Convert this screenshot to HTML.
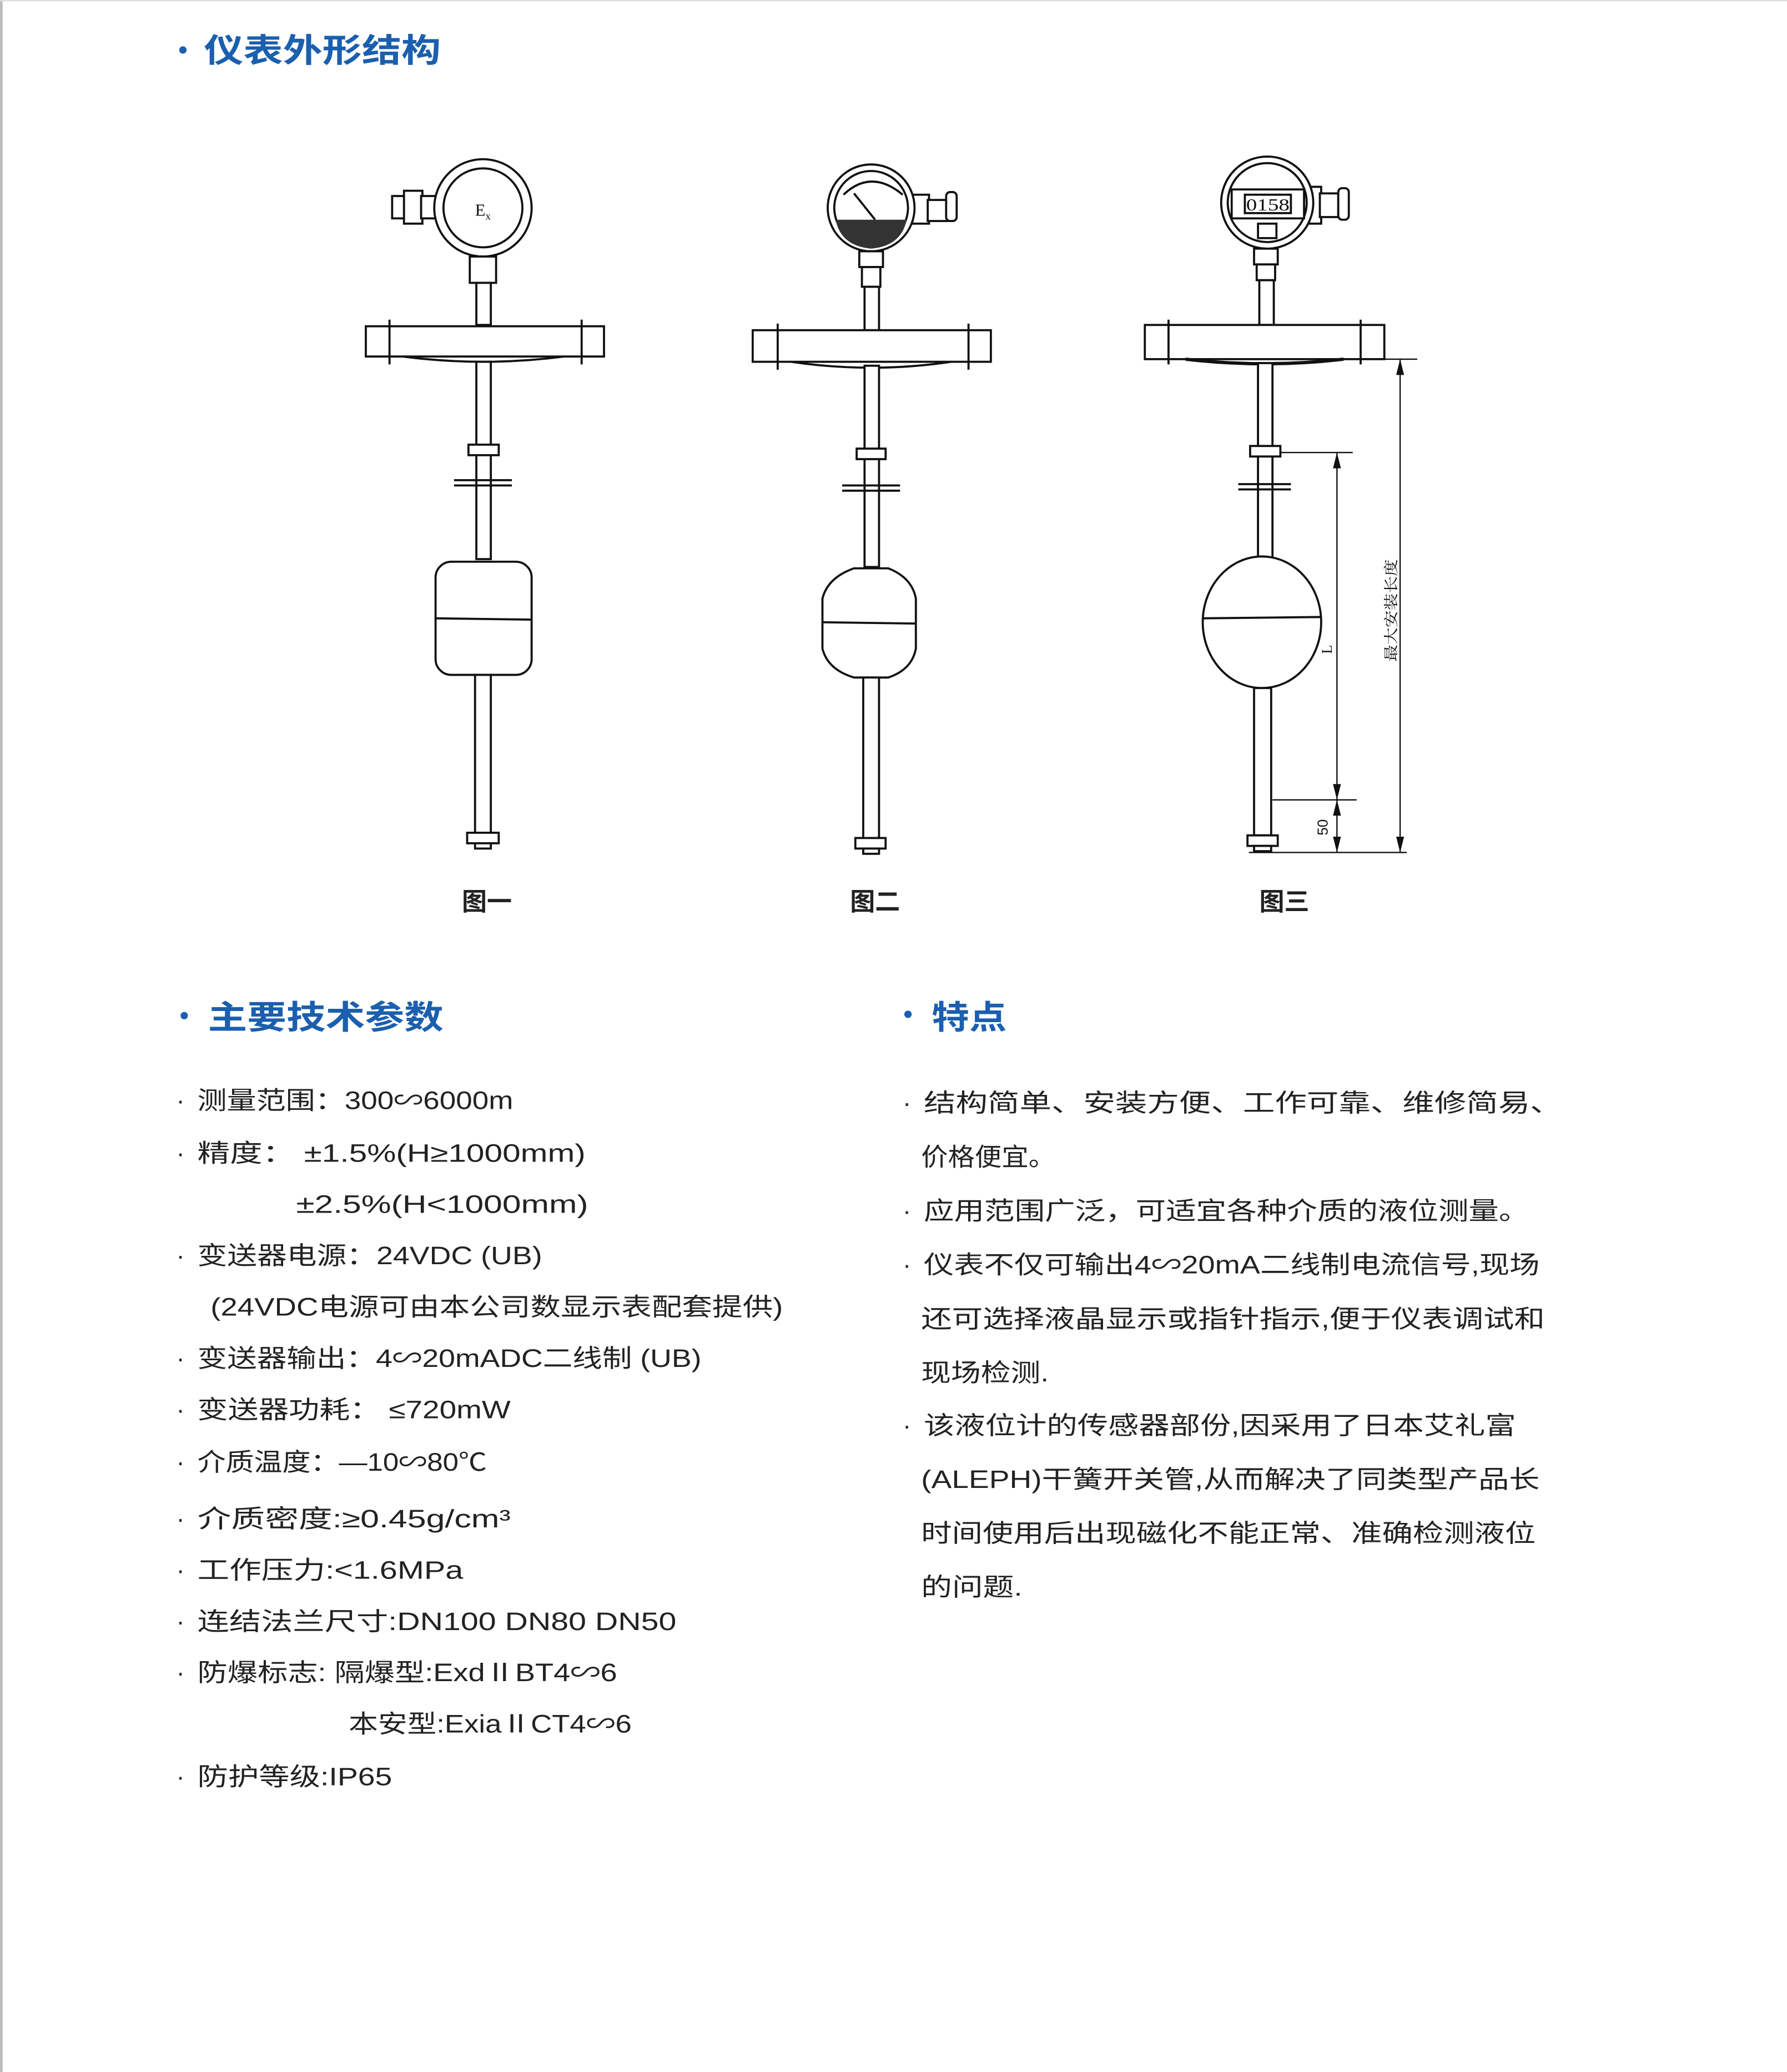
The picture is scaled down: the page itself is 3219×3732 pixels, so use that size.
<!DOCTYPE html>
<html><head><meta charset="utf-8"><style>
html,body{margin:0;padding:0;background:#fff;}
svg{display:block;}
.t{font-family:"Liberation Sans","Noto Sans CJK SC",sans-serif;font-size:19px;fill:#222;}
.h{font-family:"Liberation Sans","Noto Sans CJK SC",sans-serif;font-size:25px;font-weight:bold;fill:#1b5fae;}
.s{fill:none;stroke:#111;stroke-width:1.6;}
.w{fill:#fff;stroke:#111;stroke-width:1.6;}
.d{stroke:#111;stroke-width:1;fill:none;}
</style></head><body>
<svg width="3219" height="3732" viewBox="0 0 1358 1575" preserveAspectRatio="none" xmlns="http://www.w3.org/2000/svg">
<rect x="0" y="0" width="1358" height="1575" fill="#fff"/>
<line x1="1" y1="0" x2="1" y2="1575" stroke="#bbb" stroke-width="2"/>
<line x1="0" y1="0.5" x2="1358" y2="0.5" stroke="#ddd" stroke-width="1"/>

<!-- titles -->
<circle cx="139" cy="38" r="2.8" fill="#1b5fae"/>
<text class="h" x="155" y="47" textLength="180" lengthAdjust="spacingAndGlyphs">仪表外形结构</text>
<circle cx="140" cy="772" r="2.8" fill="#1b5fae"/>
<text class="h" x="158" y="782" textLength="179" lengthAdjust="spacingAndGlyphs">主要技术参数</text>
<circle cx="690" cy="771" r="2.8" fill="#1b5fae"/>
<text class="h" x="708" y="782" textLength="57" lengthAdjust="spacingAndGlyphs">特点</text>

<g transform="translate(1,3)">
<!-- FIG 1 -->
<g>
<rect class="w" x="297" y="146" width="10" height="17"/>
<rect class="w" x="306" y="142" width="14" height="25"/>
<rect class="w" x="319" y="146" width="12" height="17"/>
<circle class="w" cx="366" cy="155" r="37"/>
<circle class="s" cx="366" cy="155" r="30"/>
<text x="360" y="161" font-family="Liberation Serif,serif" font-size="13" fill="#111">E<tspan font-size="8" dy="3">x</tspan></text>
<rect class="w" x="356" y="192" width="20" height="20"/>
<rect class="w" x="361" y="212" width="11" height="32"/>
<rect class="w" x="277" y="245" width="181" height="23"/>
<line class="s" x1="295" y1="240" x2="295" y2="274"/>
<line class="s" x1="441" y1="240" x2="441" y2="274"/>
<path class="s" d="M305 268 Q366 276 428 268"/>
<rect class="w" x="361" y="272" width="11" height="150"/>
<rect class="w" x="355" y="335" width="23" height="8"/>
<line class="s" x1="344" y1="362" x2="388" y2="362"/>
<line class="s" x1="344" y1="366" x2="388" y2="366"/>
<rect class="w" x="330" y="424" width="73" height="86" rx="12"/>
<line class="s" x1="330" y1="467" x2="403" y2="468"/>
<rect class="w" x="360" y="510" width="12" height="120"/>
<rect class="w" x="354" y="630" width="24" height="8"/>
<rect class="w" x="360" y="638" width="12" height="4"/>
<text class="t" x="350" y="689" font-size="15" font-weight="bold">图一</text>
</g>

<!-- FIG 2 -->
<g>
<rect class="w" x="690" y="145" width="15" height="22"/>
<rect class="w" x="704" y="149" width="15" height="16"/>
<rect class="w" x="718" y="143" width="8" height="22" rx="3"/>
<circle class="w" cx="661" cy="155" r="33"/>
<circle class="s" cx="661" cy="155" r="28"/>
<path class="s" d="M640 145 Q661 125 685 145"/>
<line class="s" x1="648" y1="144" x2="664" y2="164"/>
<path d="M634 164 L688 164 Q684 184 661 186 Q638 184 634 164 Z" fill="#333"/>
<rect class="w" x="652" y="188" width="18" height="12"/>
<rect class="w" x="654" y="200" width="14" height="15"/>
<rect class="w" x="656" y="215" width="11" height="33"/>
<rect class="w" x="571" y="248" width="181" height="24"/>
<line class="s" x1="590" y1="243" x2="590" y2="278"/>
<line class="s" x1="735" y1="243" x2="735" y2="278"/>
<path class="s" d="M600 272 Q661 281 722 272"/>
<rect class="w" x="656" y="275" width="11" height="153"/>
<rect class="w" x="650" y="338" width="22" height="8"/>
<line class="s" x1="639" y1="366" x2="683" y2="366"/>
<line class="s" x1="639" y1="370" x2="683" y2="370"/>
<path class="w" d="M648 429 L674 429 Q692 436 695 452 L695 490 Q692 506 674 512 L648 512 Q628 506 624 490 L624 452 Q628 436 648 429 Z"/>
<line class="s" x1="624" y1="470" x2="695" y2="471"/>
<rect class="w" x="655" y="512" width="12" height="122"/>
<rect class="w" x="649" y="634" width="23" height="8"/>
<rect class="w" x="655" y="642" width="12" height="4"/>
<text class="t" x="645" y="689" font-size="15" font-weight="bold">图二</text>
</g>

<!-- FIG 3 -->
<g>
<rect class="w" x="990" y="139" width="13" height="28"/>
<rect class="w" x="1002" y="144" width="14" height="18"/>
<rect class="w" x="1016" y="140" width="8" height="24" rx="3"/>
<circle class="w" cx="962" cy="151" r="35"/>
<circle class="s" cx="962" cy="151" r="30"/>
<rect class="w" x="935" y="141" width="55" height="22"/>
<rect class="s" x="945" y="145" width="35" height="14"/>
<text x="946" y="157" font-family="Liberation Serif,serif" font-size="13" fill="#111" textLength="33" lengthAdjust="spacingAndGlyphs">0158</text>
<rect class="w" x="955" y="167" width="14" height="11"/>
<rect class="w" x="952" y="186" width="18" height="12"/>
<rect class="w" x="954" y="198" width="14" height="12"/>
<rect class="w" x="956" y="210" width="11" height="34"/>
<rect class="w" x="869" y="244" width="182" height="26"/>
<line class="s" x1="887" y1="240" x2="887" y2="274"/>
<line class="s" x1="1033" y1="240" x2="1033" y2="274"/>
<path d="M900 270 Q960 277 1020 270" stroke="#111" stroke-width="2.5" fill="none"/>
<rect class="w" x="955" y="273" width="11" height="152"/>
<rect class="w" x="949" y="336" width="23" height="8"/>
<line class="s" x1="940" y1="365" x2="980" y2="365"/>
<line class="s" x1="940" y1="369" x2="980" y2="369"/>
<ellipse class="w" cx="958" cy="470" rx="45" ry="50"/>
<line class="s" x1="913" y1="467" x2="1003" y2="466"/>
<rect class="w" x="952" y="520" width="13" height="112"/>
<rect class="w" x="947" y="632" width="23" height="8"/>
<rect class="w" x="952" y="640" width="13" height="4"/>
<line class="d" x1="972" y1="341" x2="1027" y2="341"/>
<line class="d" x1="966" y1="605" x2="1030" y2="605"/>
<line class="d" x1="1015" y1="341" x2="1015" y2="645"/>
<path d="M1015 341 l-3 12 h6z M1015 605 l-3 -12 h6z M1015 605 l-3 12 h6z M1015 645 l-3 -12 h6z" fill="#111"/>
<line class="d" x1="1051" y1="270" x2="1076" y2="270"/>
<line class="d" x1="948" y1="645" x2="1068" y2="645"/>
<line class="d" x1="1063" y1="270" x2="1063" y2="645"/>
<path d="M1063 270 l-3 12 h6z M1063 645 l-3 -12 h6z" fill="#111"/>
<text transform="translate(1008,632) rotate(-90)" font-family="Liberation Sans,sans-serif" font-size="11" fill="#111">50</text>
<text transform="translate(1011,494) rotate(-90)" font-family="Liberation Serif,serif" font-size="11" fill="#111">L</text>
<text transform="translate(1060,500) rotate(-90)" font-family="Liberation Sans,'Noto Serif CJK SC',sans-serif" font-size="11" fill="#111" textLength="78" lengthAdjust="spacingAndGlyphs">最大安装长度</text>
<text class="t" x="956" y="689" font-size="15" font-weight="bold">图三</text>
</g>
</g>

<!-- left list -->
<g class="t" transform="translate(0,4)">
<text x="134" y="839">·</text><text x="150" y="839" textLength="240" lengthAdjust="spacingAndGlyphs">测量范围：300∽6000m</text>
<text x="134" y="879">·</text><text x="150" y="879" textLength="295" lengthAdjust="spacingAndGlyphs">精度： ±1.5%(H≥1000mm)</text>
<text x="225" y="918" textLength="222" lengthAdjust="spacingAndGlyphs">±2.5%(H&lt;1000mm)</text>
<text x="134" y="957">·</text><text x="150" y="957" textLength="262" lengthAdjust="spacingAndGlyphs">变送器电源：24VDC (UB)</text>
<text x="160" y="996" textLength="435" lengthAdjust="spacingAndGlyphs">(24VDC电源可由本公司数显示表配套提供)</text>
<text x="134" y="1035">·</text><text x="150" y="1035" textLength="383" lengthAdjust="spacingAndGlyphs">变送器输出：4∽20mADC二线制 (UB)</text>
<text x="134" y="1074">·</text><text x="150" y="1074" textLength="238" lengthAdjust="spacingAndGlyphs">变送器功耗： ≤720mW</text>
<text x="134" y="1114">·</text><text x="150" y="1114" textLength="220" lengthAdjust="spacingAndGlyphs">介质温度：—10∽80℃</text>
<text x="134" y="1157">·</text><text x="150" y="1157" textLength="238" lengthAdjust="spacingAndGlyphs">介质密度:≥0.45g/cm³</text>
<text x="134" y="1196">·</text><text x="150" y="1196" textLength="202" lengthAdjust="spacingAndGlyphs">工作压力:&lt;1.6MPa</text>
<text x="134" y="1235">·</text><text x="150" y="1235" textLength="364" lengthAdjust="spacingAndGlyphs">连结法兰尺寸:DN100  DN80  DN50</text>
<text x="134" y="1274">·</text><text x="150" y="1274" textLength="319" lengthAdjust="spacingAndGlyphs">防爆标志: 隔爆型:ExdⅡBT4∽6</text>
<text x="265" y="1313" textLength="215" lengthAdjust="spacingAndGlyphs">本安型:ExiaⅡCT4∽6</text>
<text x="134" y="1353">·</text><text x="150" y="1353" textLength="148" lengthAdjust="spacingAndGlyphs">防护等级:IP65</text>
</g>

<!-- right list -->
<g class="t" transform="translate(2,4)">
<text x="684" y="841">·</text><text x="700" y="841" textLength="485" lengthAdjust="spacingAndGlyphs">结构简单、安装方便、工作可靠、维修简易、</text>
<text x="698" y="882" textLength="102" lengthAdjust="spacingAndGlyphs">价格便宜。</text>
<text x="684" y="923">·</text><text x="700" y="923" textLength="460" lengthAdjust="spacingAndGlyphs">应用范围广泛，可适宜各种介质的液位测量。</text>
<text x="684" y="964">·</text><text x="700" y="964" textLength="468" lengthAdjust="spacingAndGlyphs">仪表不仅可输出4∽20mA二线制电流信号,现场</text>
<text x="698" y="1005" textLength="474" lengthAdjust="spacingAndGlyphs">还可选择液晶显示或指针指示,便于仪表调试和</text>
<text x="698" y="1046" textLength="97" lengthAdjust="spacingAndGlyphs">现场检测.</text>
<text x="684" y="1086">·</text><text x="700" y="1086" textLength="450" lengthAdjust="spacingAndGlyphs">该液位计的传感器部份,因采用了日本艾礼富</text>
<text x="698" y="1127" textLength="470" lengthAdjust="spacingAndGlyphs">(ALEPH)干簧开关管,从而解决了同类型产品长</text>
<text x="698" y="1168" textLength="467" lengthAdjust="spacingAndGlyphs">时间使用后出现磁化不能正常、准确检测液位</text>
<text x="698" y="1209" textLength="77" lengthAdjust="spacingAndGlyphs">的问题.</text>
</g>
</svg>
</body></html>
